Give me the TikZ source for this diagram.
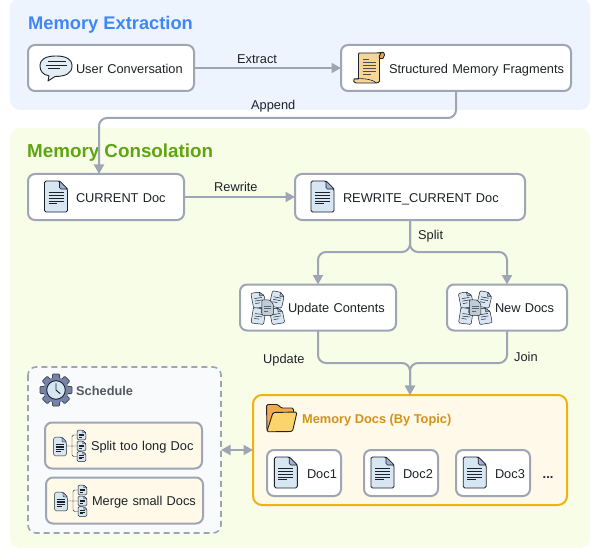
\documentclass[tikz,border=0pt]{standalone}
\usepackage{fontspec}
\setmainfont{Liberation Sans}
\usetikzlibrary{arrows.meta}
\definecolor{panelblue}{HTML}{EEF4FE}
\definecolor{panelgreen}{HTML}{F8FDE8}
\definecolor{edgegray}{HTML}{9EA5B5}
\definecolor{titleblue}{HTML}{3F87F5}
\definecolor{titlegreen}{HTML}{5FA50F}
\definecolor{titleorange}{HTML}{D4921A}
\definecolor{titlegray}{HTML}{555A60}
\definecolor{inkdark}{HTML}{1E2228}
\definecolor{docblue}{HTML}{D6E6F2}
\definecolor{foldblue}{HTML}{A3AFD6}
\definecolor{warm}{HTML}{FEF9E8}
\definecolor{schedfill}{HTML}{F8FAFC}
\definecolor{amber}{HTML}{EFB20E}
\definecolor{gearblue}{HTML}{7384A6}
\definecolor{scrollbody}{HTML}{F5D598}
\definecolor{scrollcurl}{HTML}{EE9F55}
\definecolor{folderback}{HTML}{F4A94E}
\definecolor{folderfront}{HTML}{FBD56B}
\newcommand{\icw}{0.9}
\tikzset{
  x=1pt,y=-1pt,
  labeltext/.style={font=\fontsize{12.8}{14}\selectfont,text=inkdark},
  pbox/.style n args={3}{rectangle,rounded corners=7pt,draw=edgegray,line width=2pt,fill=white,
    labeltext,inner xsep=0pt,inner ysep=0pt,outer sep=0pt,align=left,
    text width=#1pt,minimum height=#2pt,text height=10pt,text depth=0pt,
    execute at begin node={\hspace*{#3pt}}},
  conn/.style={draw=edgegray,line width=2pt,rounded corners=8pt,-{Triangle[length=9.5pt,width=10pt]}},
  edgelabel/.style={labeltext,inner sep=0pt,anchor=base west},
  titletext/.style={font=\fontsize{18.3}{20}\selectfont\bfseries,inner sep=0pt,anchor=base west},
  subtitle/.style={font=\fontsize{12.8}{14}\selectfont\bfseries,inner sep=0pt,anchor=base west},
  iconw/.code={\renewcommand{\icw}{#1}},
  docic/.pic={
    \draw[fill=docblue,draw=inkdark,line width=\icw pt,line join=round,rounded corners=1.6pt]
      (-11.5,-15.5) -- (3.5,-15.5) -- (11.5,-7.5) -- (11.5,15.5) -- (-11.5,15.5) -- cycle;
    \draw[fill=foldblue,draw=inkdark,line width=0.7*\icw pt,line join=round]
      (3.5,-15.5) -- (11.5,-7.5) -- (5,-7.5) -- (3.5,-9) -- cycle;
    \draw[draw=inkdark,line width=0.8*\icw pt]
      (-7.5,-3.7) -- (7.5,-3.7) (-7.5,-1) -- (7.5,-1) (-7.5,1.7) -- (7.5,1.7)
      (-7.5,4.4) -- (7.5,4.4) (-7.5,7.1) -- (1,7.1);
  },
  smalldoc/.pic={
    \draw[fill=docblue,draw=inkdark,line width=\icw pt,line join=round,rounded corners=1.2pt]
      (-11.5,-15.5) -- (3.5,-15.5) -- (11.5,-7.5) -- (11.5,15.5) -- (-11.5,15.5) -- cycle;
    \draw[fill=foldblue,draw=inkdark,line width=0.7*\icw pt,line join=round]
      (3.5,-15.5) -- (11.5,-7.5) -- (3.5,-7.5) -- cycle;
    \draw[draw=inkdark,line width=\icw pt]
      (-7,-4) -- (7,-4) (-7,1) -- (7,1) (-7,6) -- (2,6);
  },
  grayic/.pic={
    \draw[fill=docblue!75!gray,draw=inkdark,line width=\icw pt,rounded corners=1.2pt]
      (-11.5,-15.5) -- (3.5,-15.5) -- (11.5,-7.5) -- (11.5,15.5) -- (-11.5,15.5) -- cycle;
    \draw[draw=inkdark!70,line width=\icw pt]
      (-7,-3) -- (7,-3) (-7,2) -- (7,2) (-7,7) -- (1,7);
  },
  chatic/.pic={
    \draw[fill=docblue!70!white,draw=inkdark,line width=0.9pt,line join=round]
      (16,0) .. controls (26,0) and (32,3) .. (32,10) .. controls (32,17) and (26,20.5) .. (15,20.5)
      -- (8,25) -- (9,19.8) .. controls (3,19) and (0,15) .. (0,10) .. controls (0,3) and (6,0) .. (16,0) -- cycle;
    \draw[draw=inkdark,line width=0.7pt] (8,5.5) -- (26,5.5) (6,9) -- (27,9) (8,12.5) -- (20,12.5);
  },
  scrollic/.pic={
    \draw[fill=scrollcurl,draw=inkdark,line width=0.8pt,line join=round]
      (24,1) -- (30,0.3) .. controls (32,1) and (32,5) .. (30,6.5) -- (26,6.5) -- cycle;
    \draw[fill=scrollbody,draw=inkdark,line width=0.9pt,line join=round]
      (6,1) -- (28,1) .. controls (26,3) and (26,5) .. (26.5,7) -- (26.5,29) .. controls (26.5,30) and (25,31) .. (23,31)
      -- (3,31) .. controls (1,31) and (0,29) .. (1,27) -- (5.5,27) -- (5.5,3) .. controls (5.5,2) and (5.5,1.5) .. (6,1) -- cycle;
    \draw[draw=inkdark,line width=0.6pt] (1,27) .. controls (8,26) and (20,27) .. (23,31);
    \draw[draw=inkdark!80,line width=0.7pt] (9.5,7.5) -- (16,7.5) (9.5,10.5) -- (23,10.5) (9.5,13.5) -- (23,13.5)
      (9.5,16.5) -- (23,16.5) (9.5,19.5) -- (23,19.5) (9.5,22.5) -- (18,22.5);
  },
  folderic/.pic={
    \draw[fill=folderback,draw=inkdark,line width=0.9pt,line join=round,rounded corners=1.5pt]
      (1,27.5) -- (0.5,0.5) -- (12,0.5) -- (15,4) -- (27.5,4) -- (27.5,9) -- (8,27.5) -- cycle;
    \draw[fill=folderfront,draw=inkdark,line width=0.9pt,line join=round,rounded corners=1.5pt]
      (7,8.5) -- (31,8) -- (26.5,27.5) -- (0.8,27.8) -- cycle;
  },
  gearic/.pic={
    \foreach \a in {0,45,...,315}{
      \draw[fill=gearblue,draw=inkdark!85,line width=0.8pt,rotate=\a,rounded corners=1pt]
        (-3.6,-16) rectangle (3.6,-10);
    }
    \draw[fill=gearblue,draw=none] (0,0) circle[radius=12.8];
    \draw[fill=docblue,draw=inkdark,line width=0.9pt] (0,0) circle[radius=9.3];
    \draw[draw=inkdark,line width=0.9pt,line cap=round] (0,-6.5) -- (0,0) -- (4,3.5);
  },
  treeic/.pic={
    \pic[xscale=.56,yscale=.6,iconw=0.5] at (6,16.5) {docic};
    \pic[xscale=.38,yscale=.31,iconw=0.45] at (27.5,5) {smalldoc};
    \pic[xscale=.38,yscale=.31,iconw=0.45] at (27.5,16) {smalldoc};
    \pic[xscale=.38,yscale=.31,iconw=0.45] at (27.5,26.5) {smalldoc};
    \draw[draw=inkdark,line width=0.45pt,rounded corners=1.5pt] (13,16) -- (23,16)
      (23,5) -- (18,5) -- (18,26.5) -- (23,26.5);
  },
  clusteric/.pic={
    \pic[xscale=.55,yscale=.5,rotate=10] at (6.5,8) {smalldoc};
    \pic[xscale=.55,yscale=.5,rotate=-12] at (25,7.5) {smalldoc};
    \pic[xscale=.55,yscale=.5,rotate=-8] at (6.5,24) {smalldoc};
    \pic[xscale=.55,yscale=.5,rotate=10] at (25,24) {smalldoc};
    \pic[scale=.5] at (15.5,15.5) {grayic};
  },
}
\begin{document}
\begin{tikzpicture}
\useasboundingbox (0,0) rectangle (591,548);
% panels
\fill[white] (0,0) rectangle (591,548);
\fill[panelblue,rounded corners=10pt] (10,-2) rectangle (590,110);
\fill[panelgreen,rounded corners=10pt] (10,128) rectangle (590,548);
\node[titletext,text=titleblue] (t1) at (28,29.3) {Memory Extraction};
\node[titletext,text=titlegreen,font=\fontsize{18.8}{20}\selectfont\bfseries] (t2) at (27,157.5) {Memory Consolation};

% nodes
\node[pbox={166}{46}{48},text height=11.5pt] (user) at (111,68) {User Conversation};
\node[pbox={230}{46}{48},text height=11.5pt] (frag) at (456,68) {Structured Memory Fragments};
\node[pbox={156}{46}{48}] (cur) at (106,197) {CURRENT Doc};
\node[pbox={230}{46}{48}] (rew) at (410,197) {REWRITE\_CURRENT Doc};
\node[pbox={156}{46}{48}] (upd) at (318,307.5) {Update Contents};
\node[pbox={120}{46}{48}] (new) at (507,307.5) {New Docs};

% schedule group
\draw[fill=schedfill,draw=edgegray,line width=1.6pt,dash pattern=on 6pt off 4pt,rounded corners=8pt]
  (28,367) rectangle (221,533);
\coordinate (schedE) at (221,450);
\node[subtitle,text=titlegray] (schedT) at (76,395.7) {Schedule};
\node[pbox={157}{46}{46},fill=warm] (splitd) at (123.5,445.5) {Split too long Doc};
\node[pbox={157}{46}{46},fill=warm] (merged) at (124.5,500.5) {Merge small Docs};

% memory group
\node[rectangle,rounded corners=9pt,draw=amber,line width=2pt,fill=warm,inner sep=0pt,outer sep=0pt,
  minimum width=314pt,minimum height=110pt] (mem) at (410,450) {};
\node[subtitle,text=titleorange] (memT) at (302,423) {Memory Docs (By Topic)};
\node[pbox={74}{46}{40}] (d1) at (304,473) {Doc1};
\node[pbox={74}{46}{39}] (d2) at (401,473) {Doc2};
\node[pbox={74}{46}{39}] (d3) at (493,473) {Doc3};
\node[edgelabel,font=\fontsize{12.8}{14}\selectfont\bfseries] (dots) at (542.5,478) {...};

% icons
\pic at (40,56) {chatic};
\pic at (353,52) {scrollic};
\pic at (56,196.5) {docic};
\pic at (322.5,196.5) {docic};
\pic[iconw=0.5] at (252,292) {clusteric};
\pic[iconw=0.5] at (459.5,292) {clusteric};
\pic at (56,390) {gearic};
\pic at (54,430) {treeic};
\pic at (55,485) {treeic};
\pic at (266,404) {folderic};
\pic at (285.8,472.5) {docic};
\pic at (382.5,472.5) {docic};
\pic at (474.7,472.5) {docic};

% connectors
\coordinate (fragOut) at (456,91);
\coordinate (appendR) at (456,118);
\coordinate (appendL) at (99,118);
\coordinate (curIn) at (99,174);
\coordinate (splitJ) at (410,252);
\coordinate (mergeJ) at (410,363);
\draw[conn] (user) -- (frag);
\draw[conn] (fragOut) -- (appendR) -- (appendL) -- (curIn);
\draw[conn] (cur) -- (rew);
\draw[conn] (rew.south) -- (splitJ) -| (upd.north);
\draw[conn] (rew.south) -- (splitJ) -| (new.north);
\draw[conn] (upd.south) |- (mergeJ) -- (mem.north);
\draw[conn] (new.south) |- (mergeJ) -- (mem.north);
\draw[draw=edgegray,line width=2pt,{Triangle[length=9.5pt,width=10pt]}-{Triangle[length=9.5pt,width=10pt]}] (schedE) -- (mem.west);

% labels
\node[edgelabel] (lExtract) at (237,63.5) {Extract};
\node[edgelabel] (lAppend) at (251,110) {Append};
\node[edgelabel] (lRewrite) at (214,192) {Rewrite};
\node[edgelabel] (lSplit) at (418,239) {Split};
\node[edgelabel] (lUpdate) at (263,363) {Update};
\node[edgelabel] (lJoin) at (514,361.5) {Join};
\end{tikzpicture}
\end{document}
